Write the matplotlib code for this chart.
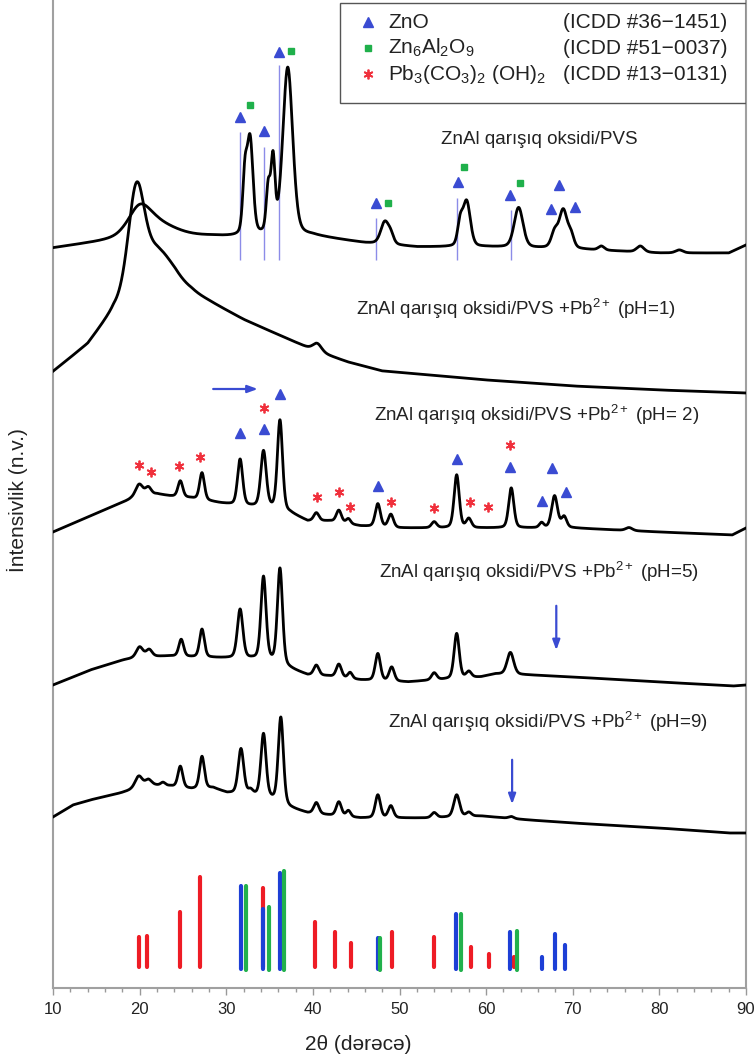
import numpy as np
import matplotlib.pyplot as plt
from matplotlib.ticker import MultipleLocator
from matplotlib.patches import Rectangle

plt.rcParams['font.family'] = ['Liberation Sans', 'DejaVu Sans']
plt.rcParams['mathtext.fontset'] = 'custom'
plt.rcParams['mathtext.rm'] = 'Liberation Sans'
plt.rcParams['mathtext.it'] = 'Liberation Sans:italic'
plt.rcParams['mathtext.bf'] = 'Liberation Sans:bold'

two_theta = np.arange(10, 90.001, 0.02)

# --- ZnAl qarisiq oksidi/PVS ---
pvs_bg_x = [10, 15, 18, 22, 28, 31, 40, 46, 52, 60, 70, 80, 88, 90]
pvs_bg_y = [740, 746, 750, 752, 752, 751, 752, 745, 741, 741, 739, 735, 735, 743]
pvs_pos = [20.0, 22.0, 32.15, 32.75, 34.85, 35.4, 37.1, 48.3, 49.0, 57.0, 57.75, 63.75, 67.9, 68.9, 69.8, 73.3, 77.8, 82.3]
pvs_h = [25, 12, 55, 95, 45, 72, 168, 22, 8, 22, 45, 40, 15, 38, 12, 4, 6, 3]
pvs_w = [3.0, 5.0, 0.6, 0.8, 0.55, 0.55, 1.35, 1.1, 0.8, 0.7, 1.0, 1.2, 0.9, 1.1, 0.8, 0.8, 1.0, 1.0]

# --- pH=1 ---
ph1_bg_x = [10, 14, 17, 20, 22, 24, 26, 28, 32, 36, 40, 44, 48, 60, 70, 80, 90]
ph1_bg_y = [616, 643, 676, 692, 697, 698, 694, 686, 668, 653, 638, 626, 617, 608, 602, 598, 595]
ph1_pos = [19.6, 22.0, 40.5]
ph1_h = [98, 38, 8]
ph1_w = [2.2, 4.5, 1.2]

# --- pH=2 ---
ph2_bg_x = [10, 16.2, 19, 22, 23.5, 25.9, 29.3, 31, 35, 37.4, 39.4, 42, 45.5, 50, 60, 70, 80, 88.4, 90]
ph2_bg_y = [456, 479, 489, 494, 492, 490, 485, 483, 480, 475, 467, 467, 462, 460, 460, 460, 456, 453, 460]
ph2_pos = [19.95, 21.0, 24.7, 27.2, 31.6, 34.3, 36.2, 40.4, 43.0, 44.1, 47.5, 49.0, 54.0, 56.6, 58.0, 62.9, 66.4, 67.9, 69.0, 76.5]
ph2_h = [13, 8, 16, 27, 46, 56, 90, 8, 12, 5, 23, 13, 6, 53, 9, 40, 5, 32, 11, 3]
ph2_w = [1.0, 0.8, 0.65, 0.65, 0.7, 0.75, 0.7, 0.7, 0.7, 0.6, 0.7, 0.7, 0.7, 0.7, 0.7, 0.7, 0.6, 0.8, 0.7, 0.9]

# --- pH=5 ---
ph5_bg_x = [10, 14.3, 18.1, 20, 23.5, 26, 29.7, 33, 35, 37.8, 39.4, 41.7, 45.5, 51, 54, 59.4, 61, 65, 70, 80, 88.5, 90]
ph5_bg_y = [303, 318, 328, 331, 332, 331, 330, 329, 327, 318, 313, 312, 308, 306, 308, 311, 314, 313, 311, 306, 302, 303]
ph5_pos = [20.0, 21.1, 24.8, 27.2, 31.6, 34.3, 36.2, 40.4, 43.0, 44.3, 47.5, 49.1, 54.0, 56.6, 58.0, 62.8]
ph5_h = [10, 7, 17, 28, 49, 83, 96, 10, 13, 6, 27, 14, 7, 45, 6, 22]
ph5_w = [0.9, 0.8, 0.65, 0.65, 0.75, 0.7, 0.7, 0.7, 0.7, 0.6, 0.7, 0.7, 0.7, 0.7, 0.7, 0.9]

# --- pH=9 ---
ph9_bg_x = [10, 12.3, 14.3, 17.8, 19, 21.5, 23.5, 26, 28.5, 30.1, 33.1, 35.1, 37.4, 39.4, 41.7, 45.5, 53, 59.4, 65, 70, 80, 88, 90]
ph9_bg_y = [171, 183, 188, 195, 198, 203, 202, 199, 200, 195, 193, 189, 180, 175, 173, 170, 170, 172, 168, 165, 160, 155, 155]
ph9_pos = [19.9, 21.0, 22.7, 24.7, 27.2, 31.7, 32.8, 34.3, 36.3, 40.4, 43.0, 44.1, 47.5, 49.0, 54.0, 56.6, 58.0, 62.9]
ph9_h = [12, 6, 3, 21, 32, 45, 4, 63, 86, 11, 14, 6, 23, 12, 5, 22, 4, 2]
ph9_w = [1.0, 0.8, 0.6, 0.65, 0.65, 0.75, 0.6, 0.7, 0.7, 0.7, 0.7, 0.6, 0.7, 0.7, 0.7, 0.8, 0.7, 0.7]

# phase markers
pvs_tri_x = [31.64, 34.31, 36.04, 47.27, 56.7, 62.8, 67.52, 68.45, 70.30]
pvs_tri_y = [871, 857, 936, 785, 806, 793, 779, 803, 781]
pvs_sq_x = [32.69, 37.43, 48.66, 57.45, 63.94]
pvs_sq_y = [883, 937, 785, 821, 805]
pvs_line_x = [31.64, 34.31, 36.04, 47.27, 56.64, 62.89]
pvs_line_top = [856, 841, 923, 770, 790, 778]
pvs_line_bottom = 728

ph2_star_x = [19.95, 21.34, 24.58, 27.01, 34.31, 40.44, 42.99, 44.26, 49.0, 53.98, 58.15, 60.23, 62.78]
ph2_star_y = [523, 516, 522, 531, 580, 491, 496, 481, 486, 480, 486, 481, 543]
ph2_tri_x = [31.53, 34.31, 36.16, 47.5, 56.64, 62.78, 66.48, 67.64, 69.26]
ph2_tri_y = [555, 559, 594, 502, 529, 521, 487, 520, 496]

# reference patterns (stick lines)
ref_base = 21
pb_pos = [19.95, 20.9, 24.7, 27.0, 34.2, 40.3, 42.6, 44.4, 49.1, 54.0, 58.2, 60.3, 63.2]
pb_h = [30, 31, 55, 90, 79, 45, 35, 24, 35, 30, 20, 13, 10]
zno_pos = [31.65, 34.3, 36.2, 47.5, 56.5, 62.8, 66.4, 67.9, 69.1]
zno_h = [81, 58, 94, 29, 53, 35, 10, 33, 22]
zao_pos = [32.3, 34.9, 36.7, 47.7, 57.1, 63.6]
zao_h = [81, 60, 96, 29, 53, 36]

labels = ['ZnAl qarışıq oksidi/PVS',
          'ZnAl qarışıq oksidi/PVS +Pb$^{2+}$ (pH=1)',
          'ZnAl qarışıq oksidi/PVS +Pb$^{2+}$ (pH= 2)',
          'ZnAl qarışıq oksidi/PVS +Pb$^{2+}$ (pH=5)',
          'ZnAl qarışıq oksidi/PVS +Pb$^{2+}$ (pH=9)']
label_x = [54.8, 45.0, 47.0, 47.6, 48.7]
label_y = [848, 679, 573, 416, 266]

BLUE = '#3a4bd2'
GREEN = '#1fb04b'
RED = '#f0303c'


def pattern(bg_x, bg_y, pos, h, w):
    y = np.interp(two_theta, bg_x, bg_y)
    for c, a, fw in zip(pos, h, w):
        d = (two_theta - c) / fw
        y = y + a * (0.7 * np.exp(-4 * np.log(2) * d ** 2) + 0.3 / (1 + 4 * d ** 2))
    return y


fig = plt.figure(figsize=(7.56, 10.6), dpi=100)
ax = fig.add_axes([53 / 756, 72 / 1060, 693 / 756, 988 / 1060])

curves = [(pvs_bg_x, pvs_bg_y, pvs_pos, pvs_h, pvs_w),
          (ph1_bg_x, ph1_bg_y, ph1_pos, ph1_h, ph1_w),
          (ph2_bg_x, ph2_bg_y, ph2_pos, ph2_h, ph2_w),
          (ph5_bg_x, ph5_bg_y, ph5_pos, ph5_h, ph5_w),
          (ph9_bg_x, ph9_bg_y, ph9_pos, ph9_h, ph9_w)]
for c in curves:
    ax.plot(two_theta, pattern(*c), color='black', lw=2.0, zorder=3)

for t, x, y in zip(labels, label_x, label_y):
    ax.text(x, y, t, fontsize=13.5, color='#222222', ha='left', va='center')

# ZnO lines under the PVS pattern
ax.vlines(pvs_line_x, pvs_line_bottom, pvs_line_top, color='#8c8ce8', lw=1.0, zorder=2)
ax.plot(pvs_tri_x, pvs_tri_y, '^', color=BLUE, ms=7.5, ls='none')
ax.plot(pvs_sq_x, pvs_sq_y, 's', color=GREEN, ms=5, ls='none')
ax.plot(ph2_tri_x, ph2_tri_y, '^', color=BLUE, ms=7.5, ls='none')
ax.plot(ph2_star_x, ph2_star_y, marker=(6, 2, 0), color=RED, ms=7, mew=1.3, ls='none')

# arrows
akw = dict(arrowstyle='-|>,head_length=0.6,head_width=0.22', color=BLUE, lw=1.6)
ax.annotate('', xy=(33.96, 599), xytext=(28.17, 599), arrowprops=akw)
ax.annotate('', xy=(68.1, 335), xytext=(68.1, 385), arrowprops=akw)
ax.annotate('', xy=(63.0, 181), xytext=(63.0, 231), arrowprops=akw)

# stick patterns
ax.vlines(pb_pos, ref_base, [ref_base + v for v in pb_h], color='#ee1c25', lw=3, capstyle='round')
ax.vlines(zno_pos, ref_base - 2, [ref_base + v for v in zno_h], color='#1d3fd6', lw=3, capstyle='round')
ax.vlines(zao_pos, ref_base - 3, [ref_base + v for v in zao_h], color='#22b14c', lw=3, capstyle='round')

# legend box
ax.add_patch(Rectangle((43.1, 885), 46.9, 100, fill=False, ec='#555555', lw=1.0, zorder=4))
leg_y = [966, 940, 914]
ax.plot(46.34, leg_y[0], '^', color=BLUE, ms=7.5)
ax.plot(46.34, leg_y[1], 's', color=GREEN, ms=5)
ax.plot(46.34, leg_y[2], marker=(6, 2, 0), color=RED, ms=7, mew=1.3)
leg_names = ['ZnO', 'Zn$_6$Al$_2$O$_9$', 'Pb$_3$(CO$_3$)$_2$ (OH)$_2$']
leg_cards = ['(ICDD #36−1451)', '(ICDD #51−0037)', '(ICDD #13−0131)']
for y, n, c in zip(leg_y, leg_names, leg_cards):
    ax.text(48.66, y, n, fontsize=15, color='#222222', va='center')
    ax.text(68.9, y, c, fontsize=15, color='#222222', va='center')

ax.set_xlim(10, 90)
ax.set_ylim(0, 988)
ax.set_yticks([])
ax.xaxis.set_major_locator(MultipleLocator(10))
ax.xaxis.set_minor_locator(MultipleLocator(2))
ax.tick_params(axis='x', which='major', direction='out', length=5, width=1, color='#999999',
               labelsize=12, labelcolor='#222222', pad=5)
ax.tick_params(axis='x', which='minor', direction='out', length=3, width=1, color='#999999')
for s in ['left', 'right', 'bottom']:
    ax.spines[s].set_color('#a0a0a0')
    ax.spines[s].set_linewidth(1.5)
ax.spines['top'].set_visible(False)

fig.text(17 / 756, 1 - 500 / 1060, 'İntensivlik (n.v.)', rotation=90, fontsize=15,
         color='#222222', ha='center', va='center')
fig.text(358 / 756, 1 - 1045 / 1060, '2θ (dərəcə)', fontsize=15, color='#222222',
         ha='center', va='center')

fig.savefig('out.png', dpi=100)
